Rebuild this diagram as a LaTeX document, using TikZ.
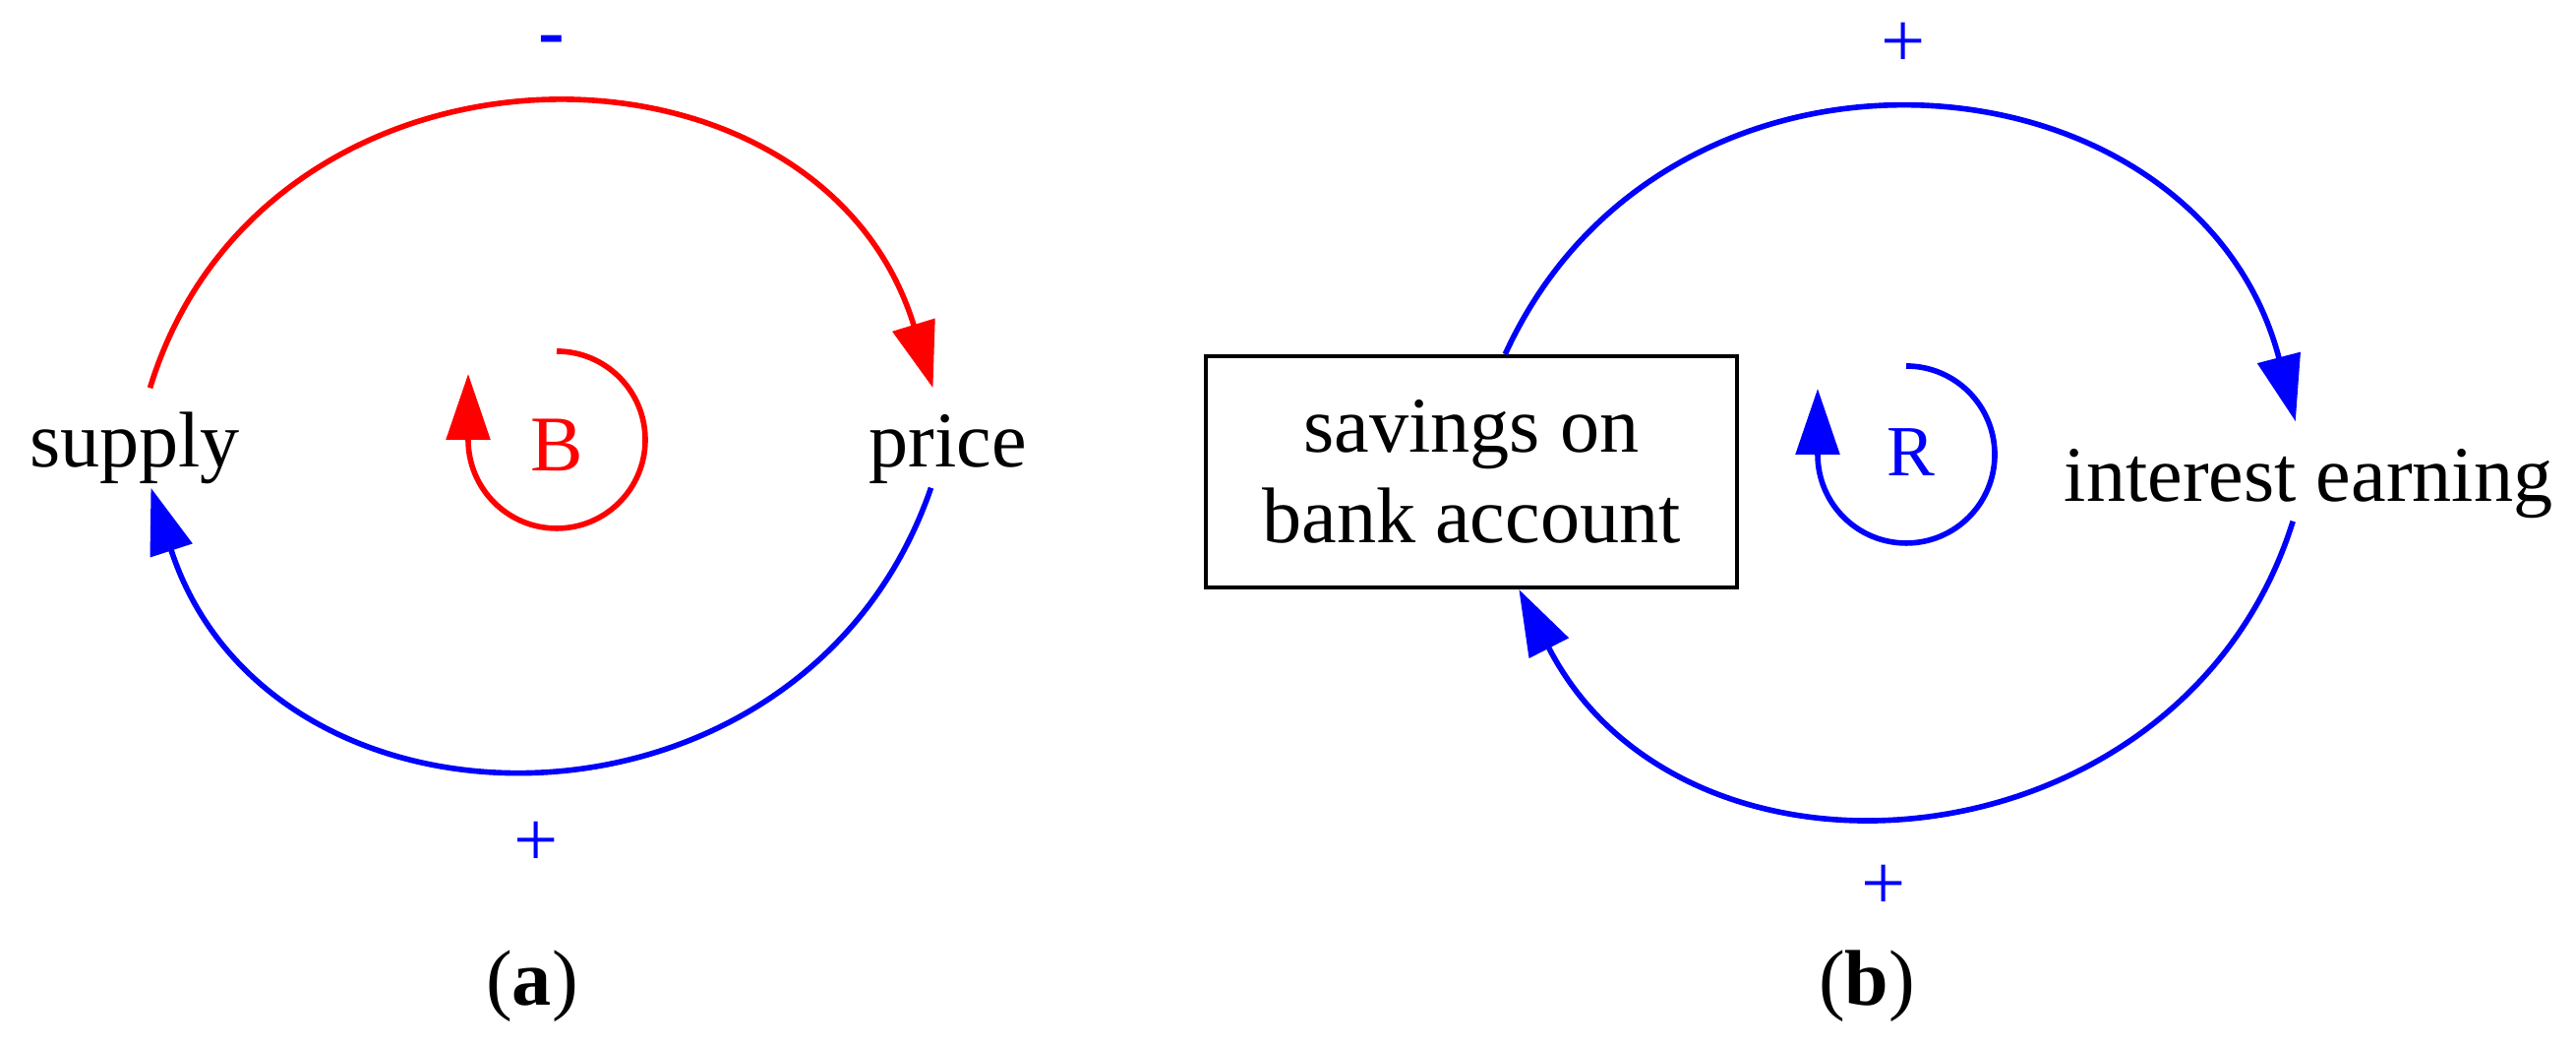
\documentclass[tikz,border=0pt]{standalone}
\usepackage{fontspec}
\setmainfont{Liberation Serif}
\usepackage{xcolor}
\usetikzlibrary{arrows.meta}

\begin{document}
\begin{tikzpicture}[
        x=0.01cm, y=0.01cm,
        var/.style={
            inner xsep=0.05cm, inner ysep=0.03cm,
            text height=0.77cm, text depth=0.17cm,
            font=\fontsize{22.8pt}{27pt}\selectfont
        },
        stock/.style={
            draw, line width=1.1pt, align=center,
            minimum width=5.4cm, minimum height=2.35cm,
            font=\fontsize{22.8pt}{26.2pt}\selectfont
        },
        link/.style={
            line width=1.6pt,
            -{Triangle[length=0.67cm, width=0.44cm]}
        },
        loopsign/.style={font=\fontsize{22.8pt}{27pt}\selectfont},
        sign/.style={blue, font=\fontsize{22.8pt}{27pt}\selectfont},
        caption/.style={font=\fontsize{22.8pt}{27pt}\selectfont}
    ]

        \useasboundingbox (0,0) rectangle (2619,-1064);

        % (a) balancing loop
        \node[var, anchor=base] (supply) at (137,-475) {supply};
        \node[var, anchor=base] (price) at (964,-475) {price};
        \node[loopsign, red, anchor=base] (B) at (566,-478) {B};
        \coordinate (Bc) at (566,-447);

        \draw[link, red] (supply) to[out=73, in=107, looseness=1.28] (price);
        \draw[link, blue] (price) to[out=-109, in=-72, looseness=1.28] (supply);
        \draw[link, red] ([yshift=0.9cm]Bc) arc[start angle=90, end angle=-180, radius=90] -- ++(0,67);

        \node[sign] (minus) at (561,-47) {\textbf{-}};
        \node[sign] (plusA) at (545,-858) {+};
        \node[caption] (capA) at (541,-1002) {(\textbf{a})};

        % (b) reinforcing loop
        \node[stock] (savings) at (1496,-479.5) {savings on\\bank account};
        \node[var, anchor=base] (interest) at (2347,-509) {interest earning};
        \node[loopsign, blue, anchor=base, font=\fontsize{20.8pt}{25pt}\selectfont] (R) at (1943,-483) {R};
        \coordinate (Rc) at (1938,-462);

        \draw[link, blue] (savings.74) to[out=65.5, in=104.7, looseness=1.26] (interest);
        \draw[link, blue] (interest) to[out=-107.4, in=-62.9, looseness=1.21] (savings.-68);
        \draw[link, blue] ([yshift=0.9cm]Rc) arc[start angle=90, end angle=-180, radius=90] -- ++(0,67);

        \node[sign] (plusB) at (1935,-46) {+};
        \node[sign] (plusC) at (1915,-902) {+};
        \node[caption] (capB) at (1898,-1002) {(\textbf{b})};

    \end{tikzpicture}
\end{document}
